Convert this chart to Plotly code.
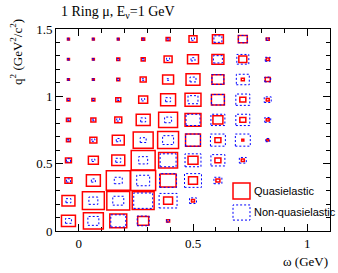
import plotly.graph_objects as go

# Binning of the two 2D histograms (omega in GeV, q^2 in GeV^2/c^2)
omega_min, omega_max, n_omega = -0.1, 1.1, 11
q2_min, q2_max, n_q2 = 0.0, 1.5, 10

# Cell contents, rows = q^2 bins (bottom to top), columns = omega bins (left to right)
qe_counts = [
    [14, 20, 17, 11, 3, 0, 0, 0, 0, 0, 0],
    [13, 22, 23, 22, 9, 3, 0, 0, 0, 0, 0],
    [7, 14, 24, 25, 16, 9, 4, 0, 0, 0, 0],
    [6, 10, 13, 24, 19, 10, 6, 3, 0, 0, 0],
    [4, 7, 12, 20, 21, 15, 6, 2, 2, 0, 0],
    [4, 5, 7, 14, 19, 16, 10, 6, 3, 0, 0],
    [3, 3, 5, 9, 15, 16, 13, 6, 3, 0, 0],
    [2, 2, 3, 6, 11, 14, 12, 3, 5, 0, 0],
    [2, 2, 3, 4, 8, 11, 12, 8, 3, 0, 0],
    [2, 2, 2, 3, 4, 8, 11, 9, 3, 0, 0],
]
nonqe_counts = [
    [6, 11, 15, 12, 3, 0, 0, 0, 0, 0, 0],
    [5, 9, 11, 19, 18, 7, 0, 0, 0, 0, 0],
    [4, 4, 8, 13, 17, 17, 8, 0, 0, 0, 0],
    [4, 3, 5, 9, 16, 16, 14, 7, 0, 0, 0],
    [2, 3, 4, 6, 11, 15, 15, 15, 4, 0, 0],
    [2, 2, 3, 5, 7, 14, 14, 14, 6, 0, 0],
    [2, 2, 2, 3, 5, 10, 13, 14, 7, 0, 0],
    [2, 2, 2, 2, 2, 6, 12, 13, 6, 0, 0],
    [2, 2, 2, 2, 3, 4, 9, 12, 5, 0, 0],
    [2, 2, 2, 2, 2, 3, 8, 9, 3, 0, 0],
]
series_names = ["Quasielastic", "Non-quasielastic"]
title_text = "1 Ring \u03bc, E<sub>\u03bd</sub>=1 GeV"
x_title = "\u03c9 (GeV)"
y_title = "q<sup>2</sup> (GeV<sup>2</sup>/c<sup>2</sup>)"

dx = (omega_max - omega_min) / n_omega
dy = (q2_max - q2_min) / n_q2
vmax = max(max(r) for r in qe_counts + nonqe_counts)

RED = "#ff0000"
BLUE = "#0000ff"


def box_shapes(counts, line):
    shapes = []
    for j, row in enumerate(counts):
        for i, v in enumerate(row):
            if v <= 0:
                continue
            f = v / vmax
            xc = omega_min + (i + 0.5) * dx
            yc = q2_min + (j + 0.5) * dy
            shapes.append(dict(
                type="rect", xref="x", yref="y",
                x0=xc - 0.5 * f * dx, x1=xc + 0.5 * f * dx,
                y0=yc - 0.5 * f * dy, y1=yc + 0.5 * f * dy,
                line=line, fillcolor="rgba(0,0,0,0)", layer="above",
            ))
    return shapes


red_line = dict(color=RED, width=1.5)
blue_line = dict(color=BLUE, width=1, dash="2px,2px")

shapes = box_shapes(qe_counts, red_line) + box_shapes(nonqe_counts, blue_line)

# legend icons (paper coords)
shapes.append(dict(type="rect", xref="paper", yref="paper",
                   x0=0.646, x1=0.708, y0=0.158, y1=0.238, line=red_line))
shapes.append(dict(type="rect", xref="paper", yref="paper",
                   x0=0.646, x1=0.708, y0=0.054, y1=0.129, line=blue_line))

fig = go.Figure()
fig.add_trace(go.Scatter(x=[None], y=[None], showlegend=False, hoverinfo="skip"))

serif = "Liberation Serif, Times New Roman, serif"
sans = "Liberation Sans, Arial, sans-serif"

axis_common = dict(
    showline=True, linecolor="black", linewidth=1, mirror="ticks",
    ticks="inside", ticklen=7, tickcolor="black", tickwidth=1,
    showgrid=False, zeroline=False,
    tickfont=dict(family=serif, size=13, color="black"),
)

fig.update_xaxes(range=[omega_min, omega_max], tick0=0, dtick=0.5,
                 minor=dict(ticks="inside", dtick=0.1, tick0=0, ticklen=4,
                            tickcolor="black", showgrid=False),
                 **axis_common)
fig.update_yaxes(range=[q2_min, q2_max], tick0=0, dtick=0.5,
                 minor=dict(ticks="inside", dtick=0.1, tick0=0, ticklen=4,
                            tickcolor="black", showgrid=False),
                 **axis_common)

annotations = [
    dict(text=title_text, xref="paper", yref="paper", x=0.011, y=1.084,
         xanchor="left", yanchor="middle", showarrow=False,
         font=dict(family=serif, size=14, color="black")),
    dict(text=x_title, xref="paper", yref="paper", x=1.0, y=-0.153,
         xanchor="right", yanchor="middle", showarrow=False,
         font=dict(family=serif, size=13, color="black")),
    dict(text=y_title, xref="paper", yref="paper", x=-0.146, y=1.06,
         xanchor="center", yanchor="top", textangle=-90, showarrow=False,
         font=dict(family=serif, size=13, color="black")),
    dict(text=series_names[0], xref="paper", yref="paper", x=0.715, y=0.198,
         xanchor="left", yanchor="middle", showarrow=False,
         font=dict(family=sans, size=11, color="black")),
    dict(text=series_names[1], xref="paper", yref="paper", x=0.715, y=0.094,
         xanchor="left", yanchor="middle", showarrow=False,
         font=dict(family=sans, size=11, color="black")),
]

fig.update_layout(
    width=338, height=273,
    margin=dict(l=56, r=8, t=29, b=42),
    paper_bgcolor="white", plot_bgcolor="white",
    shapes=shapes, annotations=annotations, showlegend=False,
    hovermode=False,
)

fig.write_html("out.html", config={"displayModeBar": False, "staticPlot": True},
               post_script="document.body.style.margin='0';document.body.style.overflow='hidden';")
